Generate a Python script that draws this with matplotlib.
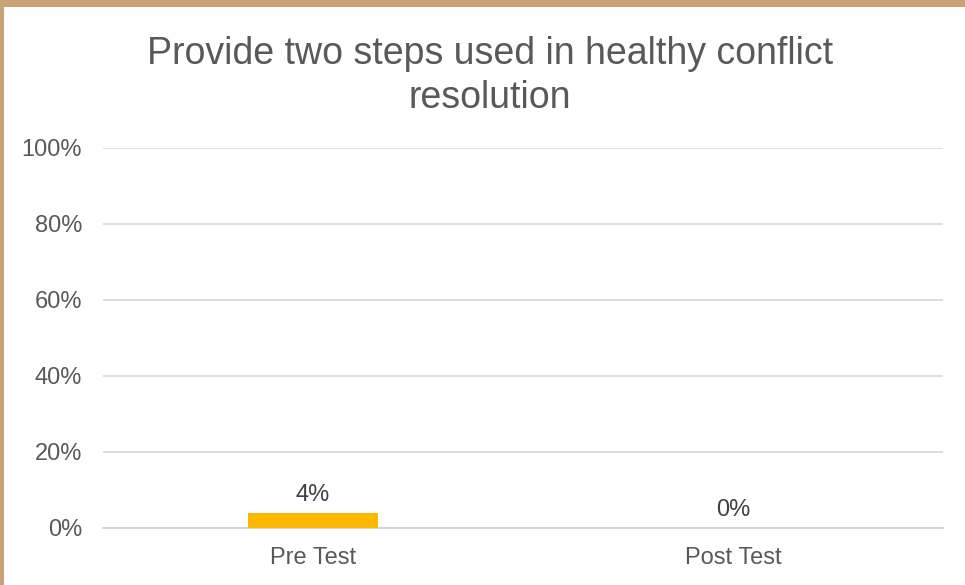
import matplotlib
matplotlib.use("Agg")
import matplotlib.pyplot as plt
from matplotlib.patches import Rectangle
from matplotlib.ticker import FuncFormatter

categories = ["Pre Test", "Post Test"]
values = [4, 0]
y_ticks = [0, 20, 40, 60, 80, 100]
title = "Provide two steps used in healthy conflict\nresolution"

plt.rcParams["font.family"] = ["Liberation Sans", "DejaVu Sans"]

W, H, DPI = 965, 585, 100
fig = plt.figure(figsize=(W / DPI, H / DPI), dpi=DPI, facecolor="white")

# tan frame along top and left edges
frame = "#C9A277"
fig.patches.append(Rectangle((0, 1 - 7 / H), 1, 7 / H, transform=fig.transFigure,
                             facecolor=frame, edgecolor="none", zorder=0))
fig.patches.append(Rectangle((0, 0), 4 / W, 1, transform=fig.transFigure,
                             facecolor=frame, edgecolor="none", zorder=0))

ax = fig.add_axes([103 / W, 1 - 528 / H, 840 / W, 380 / H])
x = list(range(len(categories)))
bars = ax.bar(x, values, width=0.31, color="#FFB800", zorder=3)

ax.set_xlim(-0.5, len(categories) - 0.5)
ax.set_ylim(0, 100)
ax.set_yticks(y_ticks)
ax.yaxis.set_major_formatter(FuncFormatter(lambda v, p: f"{v:.0f}%"))
ax.set_xticks(x)
ax.set_xticklabels(categories)

ax.grid(axis="y", color="#D9D9D9", linewidth=1.2, zorder=0)
for s in ["top", "right", "left"]:
    ax.spines[s].set_visible(False)
ax.spines["bottom"].set_color("#D0D0D0")
ax.spines["bottom"].set_linewidth(1.2)
ax.tick_params(axis="both", length=0, labelsize=17, colors="#595959")
ax.tick_params(axis="y", pad=15)
ax.tick_params(axis="x", pad=14)

for xi, v in zip(x, values):
    ax.annotate(f"{v}%", (xi, v), xytext=(0, 5), textcoords="offset points",
                ha="center", va="bottom", fontsize=17, color="#404040")

fig.text(490 / W, 1 - 76 / H, title, ha="center", va="center", fontsize=27,
         color="#595959", linespacing=1.3)

fig.savefig("out.png", dpi=DPI, facecolor="white")
